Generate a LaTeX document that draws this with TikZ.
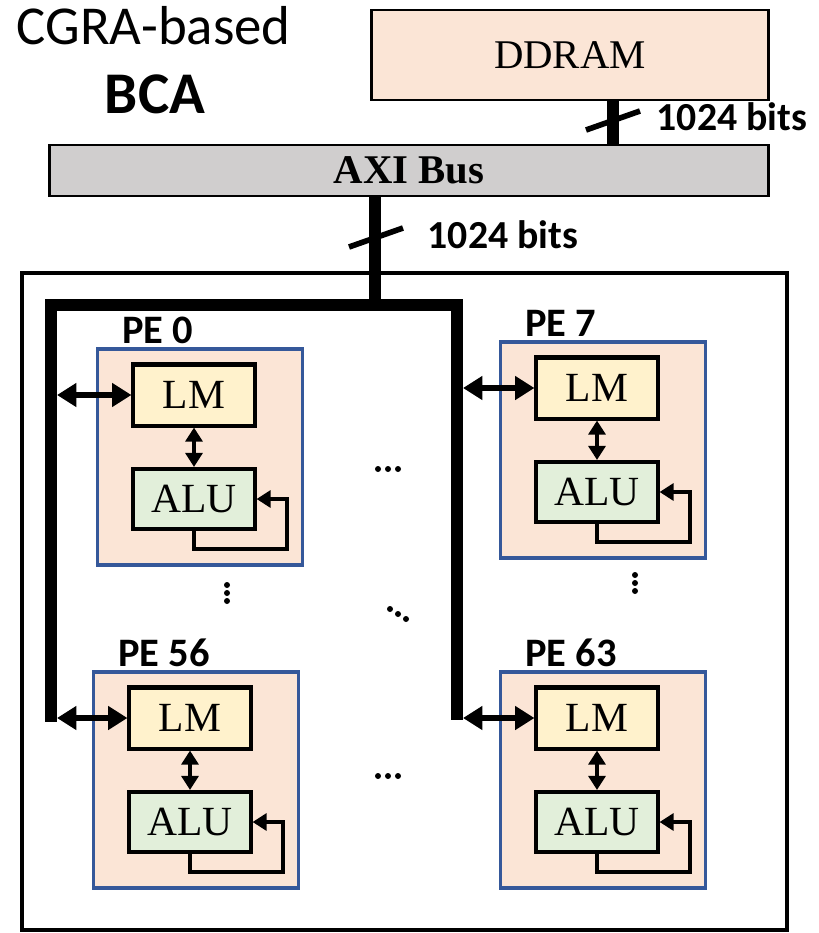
\documentclass[tikz,border=0pt]{standalone}
\usepackage{fontspec}
\setmainfont{Liberation Serif}
\newfontfamily\calibri{Carlito}
\usetikzlibrary{arrows.meta,positioning,calc}
\definecolor{peach}{HTML}{FBE5D6}
\definecolor{lmfill}{HTML}{FFF2CC}
\definecolor{alufill}{HTML}{E2EFDA}
\definecolor{busgray}{HTML}{D0CECE}
\definecolor{peblue}{HTML}{35589A}

\begin{document}
\begin{tikzpicture}[x=0.01cm, y=-0.01cm, every node/.style={inner sep=0pt},
    mem/.style={draw, line width=0.8pt, fill=peach, minimum width=3.96cm, minimum height=0.9cm, font=\fontsize{11.6}{13}\selectfont},
    axi/.style={draw, line width=0.8pt, fill=busgray, minimum width=7.18cm, minimum height=0.51cm, font=\fontsize{11.6}{13}\selectfont\bfseries},
    pe/.style={draw=peblue, line width=0.95pt, fill=peach, minimum width=2.05cm, minimum height=2.16cm},
    unit/.style={draw, line width=1.15pt, minimum width=1.21cm, minimum height=0.61cm, font=\fontsize{11.8}{13}\selectfont},
    pelabel/.style={font=\calibri\fontsize{11.5}{13}\selectfont\bfseries},
    widthlabel/.style={font=\calibri\fontsize{11.3}{13}\selectfont\bfseries, anchor=base west},
    bus/.style={line width=3.2pt},
    link/.style={line width=1.5pt, {Triangle[length=5.5pt,width=6.5pt]}-{Triangle[length=5.5pt,width=6.5pt]}},
    inlink/.style={line width=1.4pt, {Triangle[length=4pt,width=4.8pt]}-{Triangle[length=4pt,width=4.8pt]}},
    loopback/.style={line width=1.15pt, -{Triangle[length=4pt,width=4.8pt]}},
    slash/.style={line width=1.6pt}]
  \useasboundingbox (0,0) rectangle (819,933);

  % titles
  \node[anchor=base west, font=\calibri\fontsize{15.6}{18}\selectfont] (title) at (16,44) {CGRA-based};
  \node[anchor=base, font=\calibri\fontsize{16.8}{20}\selectfont\bfseries] (bca) at (155,113) {BCA};

  % memory and AXI
  \node[mem] (ddram) at (570,55) {DDRAM};
  \node[axi] (axibus) at (409,170.5) {AXI Bus};
  \node[draw, line width=1.1pt, minimum width=7.65cm, minimum height=6.57cm] (array) at (404.5,601.5) {};

  \draw[bus] (ddram.south -| 613,0) -- (axibus.north -| 613,0);
  \draw[slash] (586,130) -- (640,111);
  \node[widthlabel] (w1) at (656,130) {1024 bits};

  % PE bus
  \coordinate (tl) at (51,305);
  \coordinate (tr) at (457,305);
  \coordinate (bl) at (51,716);
  \coordinate (br) at (457,714);
  \coordinate (tap) at (375,305);
  \draw[bus] (axibus.south -| tap) -- (tap);
  \draw[bus, line cap=rect] (bl) -- (tl) -- (tr) -- (br);
  \draw[slash] (349,247) -- (403,228);
  \node[widthlabel] (w2) at (427,248) {1024 bits};

  % processing elements
  \foreach \n/\px/\py/\b in {0/200/457/tl, 7/603/450/tr, 56/196/780/tl, 63/603/780/tr}{
    \node[pe] (pe\n) at (\px,\py) {};
    \node[pelabel, anchor=base west] (pel\n) at ($(pe\n.north west)+(26,-4)$) {PE \n};
    \node[unit, fill=lmfill] (lm\n) at ($(pe\n.center)+(-6,-62)$) {LM};
    \node[unit, fill=alufill, minimum height=0.6cm] (alu\n) at ($(pe\n.center)+(-6,42)$) {ALU};
    \draw[link] ($(\b |- lm\n.west)+(6,0)$) -- (lm\n.west);
    \draw[inlink] (lm\n.south) -- (alu\n.north);
    \draw[loopback] (alu\n.south) -- ++(0,18) -| ($(alu\n.east)+(30,0)$) -- (alu\n.east);
  }

  % ellipses
  \foreach \x/\y in {378/469, 388/469, 398/469, 378/776, 388/776, 398/776,
                     227/585, 227/593, 227/601, 635/575, 635/583, 635/591,
                     390/609, 398/614, 406/619}
    \fill (\x,\y) circle (3);
\end{tikzpicture}
\end{document}
